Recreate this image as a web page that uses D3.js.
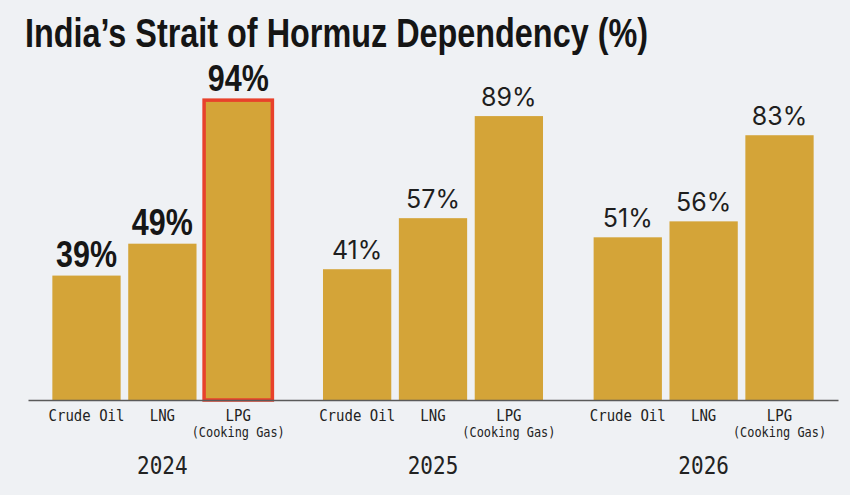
<!DOCTYPE html>
<html lang="en">

<head>
    <meta charset="UTF-8">
    <script src="https://d3js.org/d3.v7.min.js"></script>
    <style>
        body {
            margin: 0;
            background: #eff1f4;
        }

        .cat-label {
            font-family: "DejaVu Sans Mono", monospace;
            fill: #222;
        }

        .val-regular {
            font-family: Inter, "Noto Sans", sans-serif;
            font-size: 25px;
            fill: #1e1e1e;
        }

        .val-bold {
            font-family: "Liberation Sans Narrow", "Liberation Sans", sans-serif;
            font-weight: bold;
            font-size: 37px;
            fill: #161616;
        }
    </style>
    <title></title>
</head>

<body>
    <div id="chart"></div>
    <script>

        const titleText = "India\u2019s Strait of Hormuz Dependency (%)";

        const years = ["2024", "2025", "2026"];
        const fuels = ["Crude Oil", "LNG", "LPG"];
        const fuelSubLabels = ["", "", "(Cooking Gas)"];

        // share of imports passing through Hormuz, per year
        const crudeOil = [39, 41, 51];
        const lng = [49, 57, 56];
        const lpg = [94, 89, 83];

        const highlightYear = "2024";
        const highlightFuel = "LPG";

        const width = 850, height = 495;

        const svg = d3.select("#chart")
            .append("svg")
            .attr("width", width)
            .attr("height", height);

        svg.append("rect")
            .attr("width", width)
            .attr("height", height)
            .attr("fill", "#eff1f4");

        // title
        svg.append("text")
            .attr("x", 25)
            .attr("y", 47)
            .attr("textLength", 623)
            .attr("lengthAdjust", "spacingAndGlyphs")
            .style("font-family", "'Liberation Sans Narrow', 'Liberation Sans', sans-serif")
            .style("font-weight", "bold")
            .style("font-size", "40px")
            .style("fill", "#151515")
            .text(titleText);

        const data = [];
        years.forEach((yr, i) => {
            data.push({ year: yr, fuel: "Crude Oil", value: crudeOil[i] });
            data.push({ year: yr, fuel: "LNG", value: lng[i] });
            data.push({ year: yr, fuel: "LPG", value: lpg[i] });
        });

        const x0 = d3.scaleBand()
            .domain(years)
            .range([28, 838])
            .paddingInner(0.187)
            .paddingOuter(0.09);

        const x1 = d3.scaleBand()
            .domain(fuels)
            .range([0, x0.bandwidth()])
            .paddingInner(0.1);

        const y = d3.scaleLinear()
            .domain([0, 100])
            .range([400, 81]);

        const groups = svg.selectAll(".year-group")
            .data(years)
            .join("g")
            .attr("class", "year-group")
            .attr("transform", d => `translate(${x0(d)},0)`);

        // bars
        groups.selectAll("rect")
            .data(yr => data.filter(d => d.year === yr))
            .join("rect")
            .attr("x", d => x1(d.fuel))
            .attr("y", d => y(d.value))
            .attr("width", x1.bandwidth())
            .attr("height", d => y(0) - y(d.value))
            .attr("fill", "#d4a438")
            .attr("stroke", d => d.year === highlightYear && d.fuel === highlightFuel ? "#e8412b" : "none")
            .attr("stroke-width", 3.5);

        // value labels
        groups.selectAll(".val")
            .data(yr => data.filter(d => d.year === yr))
            .join("text")
            .attr("class", d => d.year === highlightYear ? "val val-bold" : "val val-regular")
            .attr("text-anchor", "middle")
            .attr("x", d => x1(d.fuel) + x1.bandwidth() / 2)
            .attr("y", d => y(d.value) - (d.year === highlightYear ? 9 : 10))
            .each(function (d) {
                if (d.year === highlightYear) {
                    d3.select(this)
                        .attr("textLength", 61)
                        .attr("lengthAdjust", "spacingAndGlyphs");
                }
            })
            .text(d => d.value + "%");

        // category axis under each group (mono font squeezed a bit, like the original)
        groups.append("g")
            .attr("transform", "translate(0,400)")
            .call(d3.axisBottom(x1).tickSize(0))
            .call(g => g.select(".domain").remove())
            .call(g => g.selectAll(".tick text")
                .attr("class", "cat-label")
                .attr("y", 21)
                .attr("dy", 0)
                .attr("transform", "scale(0.85,1)")
                .style("font-size", "16.5px")
                .each(function (d) {
                    const sub = fuelSubLabels[fuels.indexOf(d)];
                    if (sub) {
                        d3.select(this).append("tspan")
                            .attr("x", 0)
                            .attr("dy", 16)
                            .style("font-size", "14px")
                            .text(sub);
                    }
                }));

        // year axis with baseline
        svg.append("g")
            .attr("transform", "translate(0,400)")
            .call(d3.axisBottom(x0).tickSize(0).tickSizeOuter(0))
            .call(g => g.select(".domain")
                .attr("stroke", "#5a5a5a")
                .attr("stroke-width", 1.6))
            .call(g => g.selectAll(".tick text")
                .attr("class", "cat-label")
                .attr("y", 74)
                .attr("dy", 0)
                .attr("transform", "scale(0.875,1)")
                .style("font-size", "24px"));

    </script>

</body>

</html>
